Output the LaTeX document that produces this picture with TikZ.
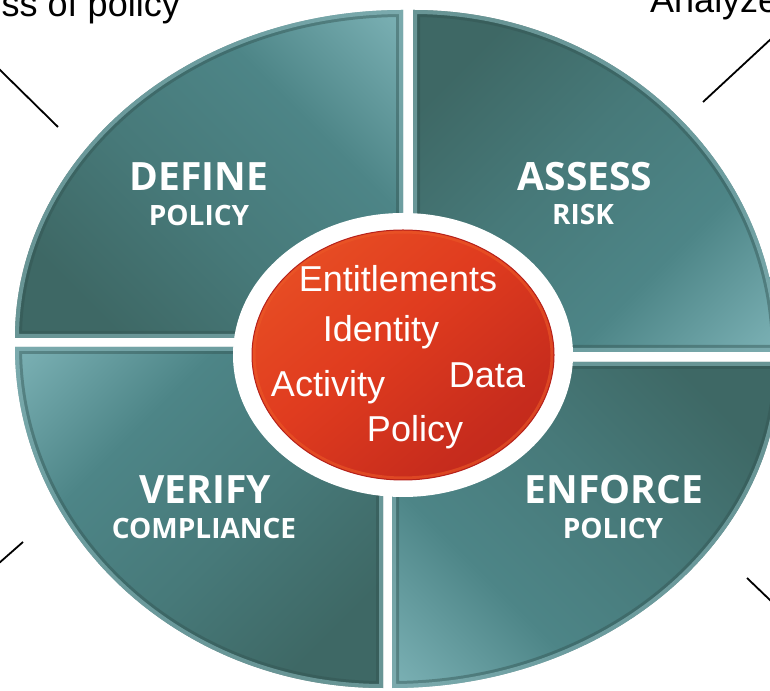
\documentclass[tikz,border=0pt]{standalone}
\usepackage{fontspec}
\setmainfont{Liberation Sans}
\newfontfamily\labelfont{Open Sans}
\definecolor{tealdark}{HTML}{3E6865}
\definecolor{tealmid}{HTML}{4D8587}
\definecolor{teallight}{HTML}{9CD0D5}
\definecolor{tealrim}{HTML}{A4D8DD}
\definecolor{redlight}{HTML}{F0642A}
\definecolor{redmid}{HTML}{E03C1F}
\definecolor{reddark}{HTML}{B6211B}
\pgfdeclareverticalshading{quadshade}{100bp}{color(0bp)=(tealdark); color(25bp)=(tealdark); color(45bp)=(tealdark!40!tealmid); color(65bp)=(tealmid); color(82bp)=(tealmid!50!teallight); color(100bp)=(teallight)}
\pgfdeclareverticalshading{hubshade}{100bp}{color(0bp)=(reddark); color(30bp)=(reddark!60!redmid); color(55bp)=(redmid); color(80bp)=(redmid!50!redlight); color(100bp)=(redlight)}
\begin{document}
\begin{tikzpicture}[x=1pt,y=1pt,
  quadlbl/.style={text=white, font=\labelfont\bfseries\fontsize{39}{41}\selectfont, inner sep=0},
  quadsub/.style={text=white, font=\labelfont\bfseries\fontsize{28}{30}\selectfont, inner sep=0},
  coreword/.style={text=white, font=\fontsize{36}{38}\selectfont, inner sep=0, anchor=base},
  toptext/.style={text=black, font=\fontsize{36}{38}\selectfont, inner sep=0, anchor=base},
  leader/.style={draw=black, line width=1.8pt},
  darkedge/.style={draw=tealdark!80!black, line width=14pt, opacity=0.45},
  lightedge/.style={draw=tealrim, line width=8pt, opacity=0.45}
]
\useasboundingbox (0,0) rectangle (770,690);
\clip (0,0) rectangle (770,690);
\fill[white] (0,0) rectangle (770,690);

\def\qDefine{(403,352) -- (15,352) arc[start angle=180,end angle=90,x radius=388,y radius=328] -- cycle}
\def\qAssess{(413,338) -- (413,680) arc[start angle=90,end angle=0,x radius=365,y radius=342] -- cycle}
\def\qEnforce{(392,328) -- (780,328) arc[start angle=0,end angle=-90,x radius=388,y radius=326] -- cycle}
\def\qVerify{(383,343) -- (383,2) arc[start angle=270,end angle=180,x radius=368,y radius=341] -- cycle}

% DEFINE quadrant
\shade[shading=quadshade, shading angle=-45] \qDefine;
\begin{scope}\clip \qDefine; \draw[darkedge] \qDefine; \draw[lightedge] \qDefine; \end{scope}
% ASSESS quadrant
\shade[shading=quadshade, shading angle=225] \qAssess;
\begin{scope}\clip \qAssess; \draw[darkedge] \qAssess; \draw[lightedge] \qAssess; \end{scope}
% ENFORCE quadrant
\shade[shading=quadshade, shading angle=135] \qEnforce;
\begin{scope}\clip \qEnforce; \draw[darkedge] \qEnforce; \draw[lightedge] \qEnforce; \end{scope}
% VERIFY quadrant
\shade[shading=quadshade, shading angle=45] \qVerify;
\begin{scope}\clip \qVerify; \draw[darkedge] \qVerify; \draw[lightedge] \qVerify; \end{scope}

% centre hub
\fill[white] (403,335) ellipse [x radius=170, y radius=142];
\shade[shading=hubshade, shading angle=40]
  (403,335) ellipse [x radius=151, y radius=125];
\draw[redlight!70!redmid, line width=3pt, opacity=0.6] (403,335) ellipse [x radius=149, y radius=123];
\draw[reddark, line width=1pt] (403,335) ellipse [x radius=151, y radius=125];

% quadrant labels
\node[quadlbl] (define) at (199,513) {DEFINE};
\node[quadsub] (definesub) at (199,475) {POLICY};
\node[quadlbl] (assess) at (585,513) {ASSESS};
\node[quadsub] (assesssub) at (583,475) {RISK};
\node[quadlbl] (verify) at (205,200) {VERIFY};
\node[quadsub] (verifysub) at (204,162) {COMPLIANCE};
\node[quadlbl] (enforce) at (614,200) {ENFORCE};
\node[quadsub] (enforcesub) at (613,162) {POLICY};

% hub words
\node[coreword] (entitlements) at (398,398) {Entitlements};
\node[coreword] (identity) at (381,348) {Identity};
\node[coreword] (activity) at (328,293) {Activity};
\node[coreword] (data) at (487,302) {Data};
\node[coreword] (policy) at (415,248) {Policy};

% clipped outer texts
\node[toptext, anchor=base east] (topleft) at (180,673) {ss of policy};
\node[toptext, anchor=base west] (topright) at (650,677) {Analyze};
\node[toptext] (bullet) at (610,690) {•};

% leader lines
\coordinate (tl1) at (-2,622); \coordinate (tl2) at (58,563);
\coordinate (tr1) at (703,588); \coordinate (tr2) at (772,652);
\coordinate (bl1) at (-2,126); \coordinate (bl2) at (23,148);
\coordinate (br1) at (747,112); \coordinate (br2) at (772,88);
\draw[leader] (tl1) -- (tl2);
\draw[leader] (tr1) -- (tr2);
\draw[leader] (bl1) -- (bl2);
\draw[leader] (br1) -- (br2);
\end{tikzpicture}
\end{document}
